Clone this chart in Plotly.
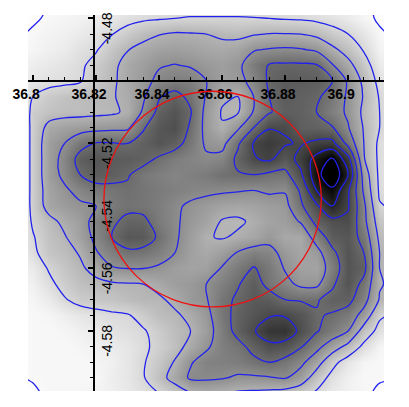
import plotly.graph_objects as go

x_grid = [36.795 + 0.005 * i for i in range(25)]
y_grid = [-4.475 - 0.005 * j for j in range(26)]

# brightness, 0 black .. 100 white, top row first
# (goes a little below 0 at the dark peak, where the picture saturates)
brightness = [
    [100,100,98,97,96,95,94,92,90,89,88,88,88,88,88,88,88,89,90,91,93,94,96,100,100],
    [100,99,97,96,95,93,91,88,86,85,84,83.5,83.5,83.5,83.5,83.7,84,85,85.5,87,89,92,96,99,100],
    [99,97,95,94,92,89,84.5,79,74,70.5,68.5,69,70,72,73,71,69.5,69.5,70,73,79,84,90,97,99],
    [97.5,96,94,92,88,85,77,70.5,66,63,62,63,65,66,64,57,55,54,55,58,67,75,85,95,97],
    [96,93,91,89,86,80,73,66,62,57,55.5,57,60,62,59,48,41,40,40,41,55,66,78,92,95],
    [94,90,88,87,85,78,72,66,60,53,49,50,56,62,60,52,40,36,36,37,42,58,73,88,92],
    [96,84,79,76,74,72,71,67,58,43,38,45,57,68,70,56,42,36,38,40,47,58,71,85,90],
    [100,80,76,74,74,73,72,68,54,38,33,41,60,71,71,55,43,37,38,42,50,58,73,84,89],
    [100,80,66,63,61,60,59,58,43,34,31,44,60,69,58,42,28.5,29,37,38,41,55,71,84,88],
    [100,80,62,56,47,41,41,42,38,33,37,47,58,60,44,27,23,27,29,25,24,46,70,87,90],
    [100,80,62,52,37,33,36,36,38,44,49,52,54,52,39,29,26,34,24,9,-2,23,69,87,90],
    [100,80,62,53,42,36,37,41,47,50,52,50,48,44,43,42,45,46,30,5,-12,14,62,87,90],
    [100,80,64,58,52,47,46,44,46,48,50,52,53,54,55,56,54,55,40,14,3,26,58,86,89],
    [100,80,65,61,58,56,48,45,46,49,54,58,61,64,65,64,62,60,44,30,14,27,53,83,86],
    [98,82,74,67,62,51,44,39,39,48,54,60,64,71,72,68,64,62,55,38,32,30,52,77,81],
    [95,85,76,71,63,53,42,34,35,44,54,62,69,71,68,65,60,66,66,50,36,34,47,73,77],
    [93,87,77,74,69,57,50,45,46,50,56,63,66,62,55,50,52,60,65,61,45,33,42,70,74],
    [95,92,83,77,72,66,57,56,56,58,62,64,63,55,48,41,47,57,63,64,50,33,38,70,74],
    [96,94,87,80,75,73,72,71,70,66,62,60,56,50,43,36,46,52,59,59,44,33,46,69,73],
    [97,96,92,85,80,78,77,74,72,72,67,60,57,46,40,35,36,42,43,43,38,38,51,71,76],
    [97.5,97,96,93,90,88,86,85,80,74,72,67,60,47,38,33,29,29,33,41,43,48,61,82,86],
    [97.5,97,97,96,94,92,89,87,85,80,74,70,62,49,38,29,21,20,31,41,48,56,76,88,92],
    [97.5,97,97,97,96,94,92,90,86,81,75,66,58,50,46,38,31,33,41,52,63,74,87,96,97],
    [97.5,97,97,97,97,96,94,90,85,78,69,57,51,50,49,45,42,46,53,64,80,90,96,97,97.5],
    [99,97,97,97,97,97,93,90,85,75,65,54,54,55,58,58,57,55,62,77,88,94,97,97,97.5],
    [100,100,96,96,96,95,94,91,88,84,78,71,68,70,72,73,74,76,80,86,92,95,96,100,100],
]

x_ticks = [36.8, 36.82, 36.84, 36.86, 36.88, 36.9]
x_tick_labels = ['36.8', '36.82', '36.84', '36.86', '36.88', '36.9']
y_ticks = [-4.48, -4.52, -4.54, -4.56, -4.58]
y_tick_labels = ['-4.48', '-4.52', '-4.54', '-4.56', '-4.58']

x_range = [36.7984, 36.9114]
y_range = [-4.5992, -4.4789]
x_cross = 36.8195
y_cross = -4.5

# red circle
circle_x = 36.8570
circle_y = -4.5378
circle_r = 0.0345

fig = go.Figure()
fig.add_trace(go.Heatmap(
    x=x_grid, y=y_grid, z=brightness,
    zmin=0, zmax=100, zsmooth='best', showscale=False, hoverinfo='skip',
    colorscale=[[0, 'black'], [1, 'white']],
))
fig.add_trace(go.Contour(
    x=x_grid, y=y_grid, z=brightness,
    autocontour=False,
    contours=dict(coloring='none', start=0, end=98, size=14),
    line=dict(color='#2222ee', width=1.3, smoothing=1),
    showscale=False, hoverinfo='skip',
))
fig.add_shape(
    type='circle', xref='x', yref='y', layer='above',
    x0=circle_x - circle_r, x1=circle_x + circle_r,
    y0=circle_y - circle_r, y1=circle_y + circle_r,
    line=dict(color='#ee1111', width=1.3),
)

fig.update_xaxes(
    range=x_range, anchor='free',
    position=(y_cross - y_range[0]) / (y_range[1] - y_range[0]),
    tickmode='array', tickvals=x_ticks, ticktext=x_tick_labels,
    ticks='inside', ticklen=5, tickwidth=1.5, tickcolor='black',
    minor=dict(ticks='inside', ticklen=3, tickwidth=1, tickcolor='black', dtick=0.005, tick0=36.8),
    showline=True, linecolor='black', linewidth=2,
    showgrid=False, zeroline=False, tickangle=0,
    tickfont=dict(family='Liberation Sans, Arial, sans-serif', size=14, color='black', weight='bold'),
    ticklabelshift=-7,
)
fig.update_yaxes(
    range=y_range, anchor='free', side='right',
    position=(x_cross - x_range[0]) / (x_range[1] - x_range[0]),
    tickmode='array', tickvals=y_ticks, ticktext=y_tick_labels,
    ticks='inside', ticklen=5, tickwidth=1.5, tickcolor='black',
    minor=dict(ticks='inside', ticklen=3, tickwidth=1, tickcolor='black', dtick=0.005, tick0=-4.5),
    showline=True, linecolor='black', linewidth=2,
    showgrid=False, zeroline=False, tickangle=-90,
    tickfont=dict(family='Liberation Sans, Arial, sans-serif', size=14, color='black'),
    ticklabelshift=12,
)
fig.update_layout(
    width=409, height=407, autosize=False, showlegend=False,
    margin=dict(l=26, r=25, t=12, b=16),
    paper_bgcolor='white', plot_bgcolor='white',
)

fig.write_html('out.html', config={'displayModeBar': False},
               post_script="document.body.style.margin='0';")
